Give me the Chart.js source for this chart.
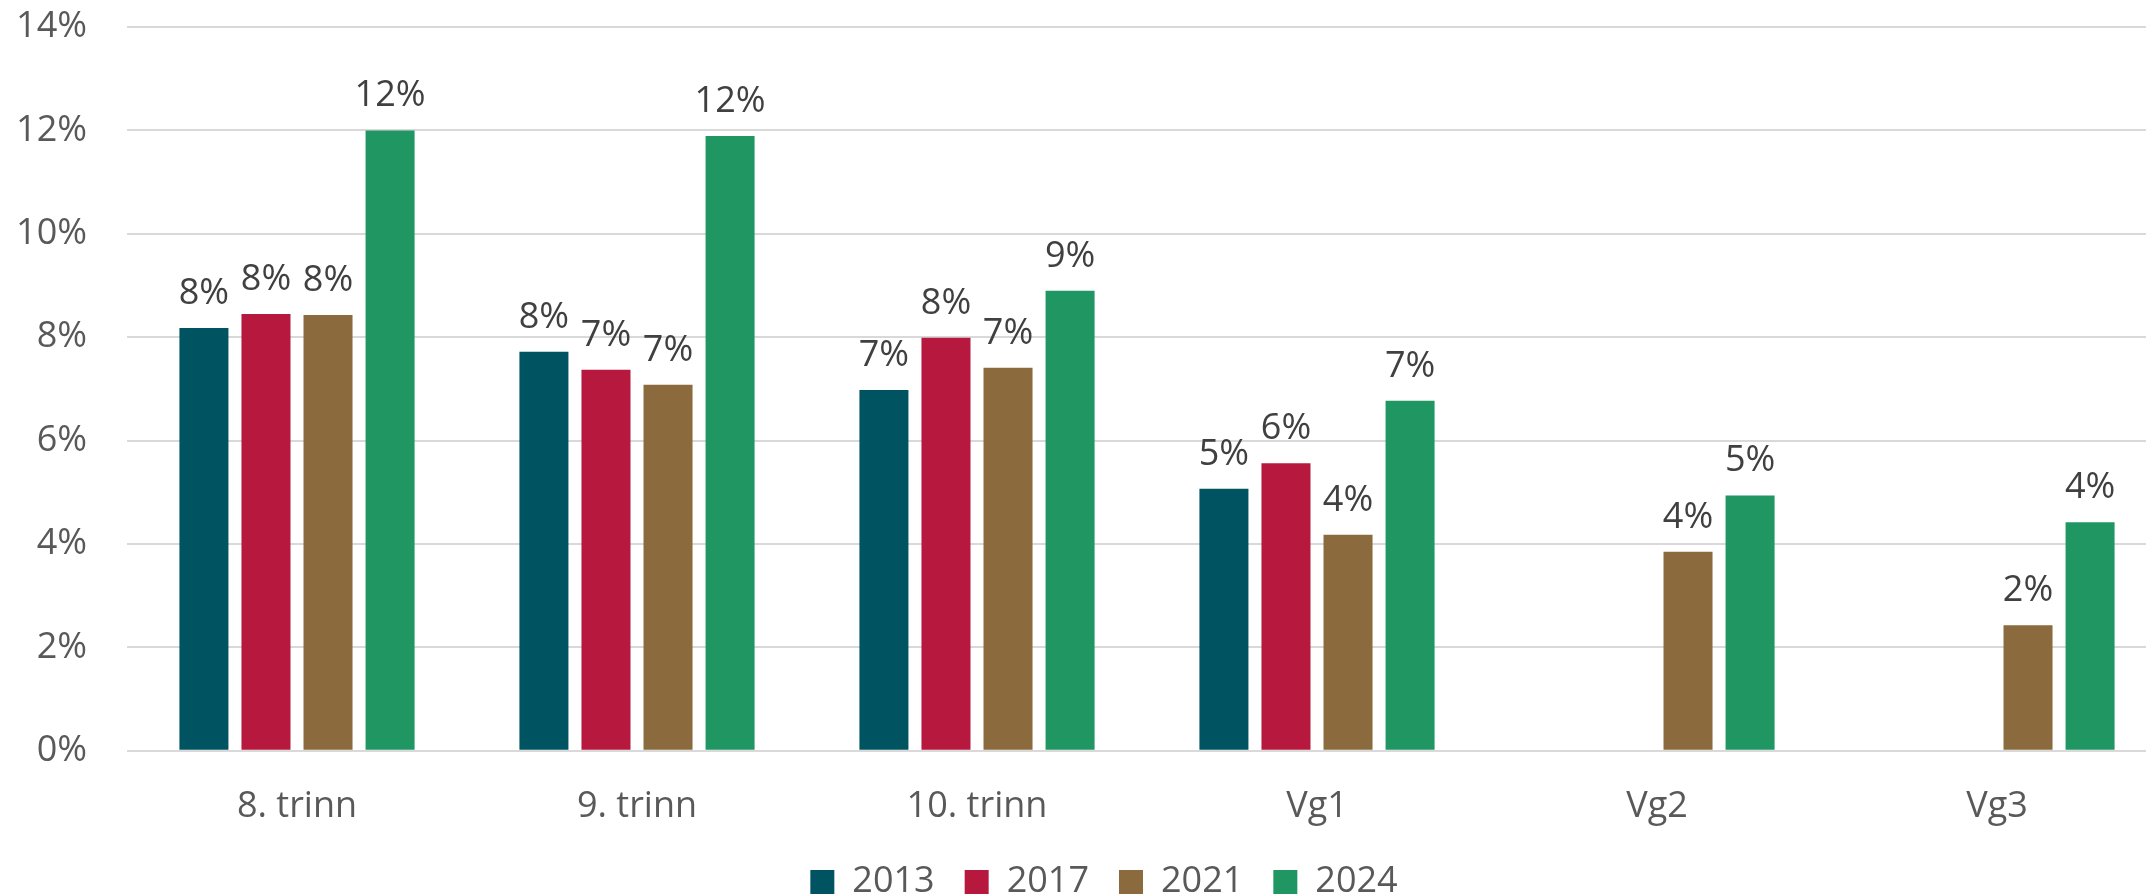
<!DOCTYPE html>
<html lang="no">
<head>
<meta charset="utf-8">
<title>Andel per trinn</title>
<script src="https://cdn.jsdelivr.net/npm/chart.js@4/dist/chart.umd.min.js"></script>
<style>
  html, body { margin: 0; padding: 0; background: #fff; overflow: hidden; }
  /* plot area in the original runs past the right edge of the picture */
  #wrap { position: absolute; left: 0; top: 0; width: 2208px; height: 896px; }
</style>
</head>
<body>
<div id="wrap"><canvas id="chart"></canvas></div>
<script>
'use strict';

const KATEGORIER = ['8. trinn', '9. trinn', '10. trinn', 'Vg1', 'Vg2', 'Vg3'];
const AAR        = ['2013', '2017', '2021', '2024'];

// Values in percent (null = no data that year)
const VERDI_2013 = [8.18, 7.72, 6.98, 5.07, null, null];
const VERDI_2017 = [8.45, 7.37, 7.99, 5.56, null, null];
const VERDI_2021 = [8.43, 7.08, 7.41, 4.18, 3.85, 2.43];
const VERDI_2024 = [12.0, 11.89, 8.90, 6.77, 4.94, 4.42];

const Y_MIN  = 0;
const Y_MAX  = 14;
const Y_STEP = 2;

const FARGER = ['#005461', '#B7183E', '#8B6B3D', '#209662'];

const FONT = '"Open Sans", "Noto Sans", sans-serif';

// ── Value labels above each bar ────────────────────────────────────────────

const verdiEtiketter = {
  id: 'verdiEtiketter',
  afterDatasetsDraw(chart) {
    const ctx = chart.ctx;
    ctx.save();
    ctx.font = `36px ${FONT}`;
    ctx.fillStyle = '#404040';
    ctx.textAlign = 'center';
    ctx.textBaseline = 'alphabetic';
    chart.data.datasets.forEach((ds, i) => {
      chart.getDatasetMeta(i).data.forEach((bar, j) => {
        const v = ds.data[j];
        if (v === null || v === undefined) return;
        ctx.fillText(Math.round(v) + '%', bar.x, bar.y - 24);
      });
    });
    ctx.restore();
  },
};

// bottom padding is negative so the plot reaches down far enough;
// pull the legend back up into view and a bit to the right
const legendFlytt = {
  id: 'legendFlytt',
  afterLayout(chart) {
    const lg = chart.legend;
    if (!lg) return;
    lg.top -= 20; lg.bottom -= 20;
    lg.left += 13; lg.right += 13;
  },
};

// ── Chart ───────────────────────────────────────────────────────────────────

const serier = [VERDI_2013, VERDI_2017, VERDI_2021, VERDI_2024];

new Chart(document.getElementById('chart').getContext('2d'), {
  type: 'bar',
  data: {
    labels: KATEGORIER,
    datasets: AAR.map((yr, i) => ({
      label: yr,
      data: serier[i],
      backgroundColor: FARGER[i],
      borderWidth: 0,
      barPercentage: 0.79,
      categoryPercentage: 0.73,
    })),
  },
  options: {
    responsive: true,
    maintainAspectRatio: false,
    animation: false,
    layout: { padding: { left: 15, right: 41, top: 27, bottom: -34 } },
    plugins: {
      legend: {
        position: 'bottom',
        labels: {
          boxWidth: 24,
          boxHeight: 24,
          padding: 30,
          color: '#595959',
          font: { family: FONT, size: 36 },
        },
      },
      tooltip: { enabled: false },
    },
    scales: {
      x: {
        grid: { display: false },
        border: { display: false },
        ticks: { color: '#595959', padding: 26, font: { family: FONT, size: 36 } },
        afterFit(scale) {
          scale.paddingLeft = 0;
          scale.paddingRight = 0;
        },
      },
      y: {
        min: Y_MIN,
        max: Y_MAX,
        grid: { color: '#d9d9d9', lineWidth: 2, drawTicks: false },
        border: { display: false },
        ticks: {
          stepSize: Y_STEP,
          padding: 40,
          color: '#595959',
          font: { family: FONT, size: 36 },
          callback: v => v + '%',
        },
        afterFit(scale) {
          scale.width = 112;
          scale.paddingTop = 0;
          scale.paddingBottom = 0;
        },
      },
    },
  },
  plugins: [verdiEtiketter, legendFlytt],
});
</script>
</body>
</html>
